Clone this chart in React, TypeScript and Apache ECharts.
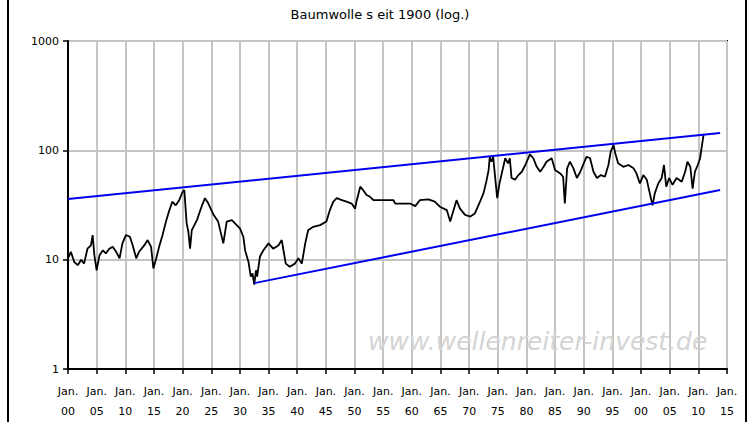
import React, { useEffect, useRef } from "react";
import * as echarts from "echarts";

const priceYears = [
  1900.0, 1900.5, 1901.1, 1901.7, 1902.3, 1902.8, 1903.4, 1904.0, 1904.3, 1904.6,
  1905.0, 1905.5, 1906.1, 1906.6, 1907.2, 1907.8, 1908.4, 1909.0, 1909.5, 1910.1,
  1910.8, 1911.3, 1911.9, 1912.4, 1913.3, 1913.9, 1914.5, 1914.9, 1915.4, 1915.9,
  1916.5, 1917.1, 1917.6, 1918.2, 1918.8, 1919.4, 1920.0, 1920.3, 1920.7, 1921.0,
  1921.3, 1921.6, 1922.5, 1923.3, 1923.9, 1924.5, 1925.4, 1926.2, 1927.1, 1927.7,
  1928.6, 1929.1, 1930.0, 1930.6, 1930.9, 1931.5, 1931.9, 1932.2, 1932.5, 1932.8,
  1933.0, 1933.5, 1934.1, 1935.0, 1935.8, 1936.7, 1937.3, 1937.6, 1938.0, 1938.7,
  1939.6, 1940.2, 1940.8, 1941.4, 1941.9, 1942.8, 1944.0, 1945.1, 1945.7, 1946.3,
  1946.9, 1947.8, 1948.6, 1949.5, 1950.1, 1950.4, 1951.0, 1951.5, 1952.1, 1952.7,
  1953.3, 1955.0, 1956.8, 1957.1, 1958.5, 1959.7, 1960.6, 1961.4, 1962.9, 1964.0,
  1964.9, 1966.1, 1966.7, 1967.2, 1967.8, 1968.4, 1969.3, 1970.2, 1971.0, 1971.9,
  1972.5, 1973.0, 1973.4, 1973.6, 1973.9, 1974.2, 1974.5, 1974.9, 1975.3, 1975.7,
  1976.3, 1976.8, 1977.1, 1977.4, 1978.0, 1978.6, 1979.2, 1979.8, 1980.3, 1980.6,
  1981.2, 1981.8, 1982.4, 1983.0, 1983.5, 1984.4, 1985.0, 1985.9, 1986.4, 1986.7,
  1987.1, 1987.6, 1988.2, 1988.8, 1989.4, 1990.0, 1990.5, 1991.1, 1991.7, 1992.3,
  1993.0, 1993.7, 1994.3, 1994.7, 1995.2, 1995.5, 1996.0, 1996.9, 1997.8, 1998.7,
  1999.2, 1999.8, 2000.4, 2001.0, 2001.4, 2002.0, 2002.4, 2003.0, 2003.6, 2004.0,
  2004.4, 2004.9, 2005.5, 2006.2, 2007.1, 2007.7, 2008.1, 2008.6, 2009.0, 2009.4,
  2009.9, 2010.3, 2010.6, 2010.9, 2011.0,
];

const priceValues = [
  10.3, 11.8, 9.5, 8.9, 10.0, 9.2, 12.6, 13.5, 16.8, 11.0,
  8.0, 11.0, 12.2, 11.4, 12.6, 13.1, 11.8, 10.3, 14.1, 16.8,
  16.2, 13.5, 10.3, 11.8, 13.5, 15.1, 13.1, 8.3, 10.3, 13.1,
  16.8, 22.3, 27.4, 33.9, 31.4, 35.0, 41.8, 43.3, 21.6, 18.0,
  12.6, 18.6, 23.0, 30.5, 36.5, 32.6, 25.7, 22.3, 14.1, 22.3,
  23.0, 21.6, 19.3, 16.2, 12.2, 9.5, 7.0, 7.5, 5.9, 8.0,
  7.0, 10.7, 12.2, 14.1, 12.6, 13.5, 15.1, 12.2, 9.2, 8.6,
  9.2, 10.3, 9.2, 14.1, 18.6, 20.0, 20.7, 22.3, 28.4, 33.9,
  36.5, 35.0, 33.9, 32.6, 29.3, 35.0, 46.5, 43.3, 39.0, 37.6,
  35.0, 35.0, 35.0, 32.6, 32.6, 32.6, 30.9, 35.0, 35.6, 33.9,
  30.5, 28.4, 22.3, 27.4, 35.0, 29.3, 25.7, 24.8, 26.5, 33.9,
  40.4, 51.7, 66.0, 87.4, 78.7, 87.4, 59.4, 36.5, 49.8, 61.5,
  84.6, 76.0, 84.6, 55.8, 53.9, 59.4, 63.7, 73.4, 84.6, 92.0,
  84.6, 70.7, 63.7, 70.7, 78.7, 84.6, 66.0, 61.5, 57.3, 32.6,
  68.4, 78.7, 68.4, 55.8, 63.7, 76.0, 87.4, 84.6, 63.7, 55.8,
  59.4, 57.3, 73.4, 97.0, 112, 94.0, 76.0, 70.7, 73.4, 68.4,
  61.5, 49.8, 59.4, 53.9, 43.3, 31.4, 40.4, 49.8, 55.8, 73.4,
  46.5, 55.8, 48.4, 55.8, 51.7, 63.7, 78.7, 70.7, 44.7, 63.7,
  73.4, 84.6, 108, 138, 141,
];

const upperTrendYears = [1900, 2013.8];
const upperTrendValues = [35.8, 144];
const lowerTrendYears = [1932.5, 2013.8];
const lowerTrendValues = [6.1, 43.3];

const titleText = "Baumwolle s eit 1900 (log.)";
const watermarkText = "www.wellenreiter-invest.de";
const yTickValues = [1, 10, 100, 1000];

export default function App() {
  const ref = useRef<HTMLDivElement>(null);

  useEffect(() => {
    if (!ref.current) return;
    const chart = echarts.init(ref.current, null, { renderer: "svg" });
    const price = priceYears.map((y, i) => [y, priceValues[i]]);
    const upper = upperTrendYears.map((y, i) => [y, upperTrendValues[i]]);
    const lower = lowerTrendYears.map((y, i) => [y, lowerTrendValues[i]]);
    const font = "'DejaVu Sans', Verdana, sans-serif";

    chart.setOption({
      animation: false,
      backgroundColor: "#ffffff",
      title: {
        text: titleText,
        left: 375,
        top: 3,
        textAlign: "center",
        textStyle: { fontFamily: font, fontSize: 13, fontWeight: "normal", color: "#000" },
      },
      grid: {
        left: 68,
        right: 23,
        top: 41,
        bottom: 53,
        show: true,
        borderColor: "#000",
        borderWidth: 2,
        backgroundColor: "transparent",
      },
      xAxis: {
        type: "value",
        min: 1900,
        max: 2015,
        interval: 5,
        axisLine: { show: true, onZero: false, lineStyle: { color: "#000", width: 2 } },
        axisTick: { show: true, length: 5, lineStyle: { color: "#000", width: 1.5 } },
        splitLine: { show: true, lineStyle: { color: "#c4c4c4", width: 2 } },
        axisLabel: {
          margin: 12,
          fontFamily: font,
          fontSize: 11,
          color: "#000",
          lineHeight: 20,
          showMinLabel: true,
          showMaxLabel: true,
          formatter: (v: number) => "Jan.\n" + String(Math.round(v) % 100).padStart(2, "0"),
        },
      },
      yAxis: {
        type: "log",
        logBase: 10,
        min: yTickValues[0],
        max: yTickValues[yTickValues.length - 1],
        axisLine: { show: true, lineStyle: { color: "#000", width: 2 } },
        axisTick: { show: true, length: 5, lineStyle: { color: "#000", width: 1.5 } },
        splitLine: { show: true, lineStyle: { color: "#c4c4c4", width: 2 } },
        axisLabel: {
          margin: 9,
          fontFamily: font,
          fontSize: 11,
          color: "#000",
          formatter: (v: number) => String(Math.round(v)),
        },
      },
      graphic: [
        {
          type: "text",
          left: 368,
          top: 329,
          z: 1,
          style: {
            text: watermarkText,
            fontFamily: font,
            fontSize: 25,
            fontStyle: "italic",
            fill: "#d4d4d4",
          },
        },
        { type: "line", shape: { x1: 8, y1: 0, x2: 8, y2: 422 }, style: { stroke: "#000", lineWidth: 2 } },
        { type: "line", shape: { x1: 746, y1: 0, x2: 746, y2: 422 }, style: { stroke: "#000", lineWidth: 2 } },
      ],
      series: [
        {
          type: "line",
          data: price,
          showSymbol: false,
          symbol: "none",
          lineStyle: { color: "#000", width: 1.8 },
          z: 3,
        },
        {
          type: "line",
          data: upper,
          showSymbol: false,
          symbol: "none",
          lineStyle: { color: "#0000ee", width: 2 },
          z: 4,
        },
        {
          type: "line",
          data: lower,
          showSymbol: false,
          symbol: "none",
          lineStyle: { color: "#0000ee", width: 2 },
          z: 4,
        },
      ],
    });
    return () => chart.dispose();
  }, []);

  return (
    <div
      ref={ref}
      style={{ position: "fixed", left: 0, top: 0, width: 750, height: 422 }}
    />
  );
}
